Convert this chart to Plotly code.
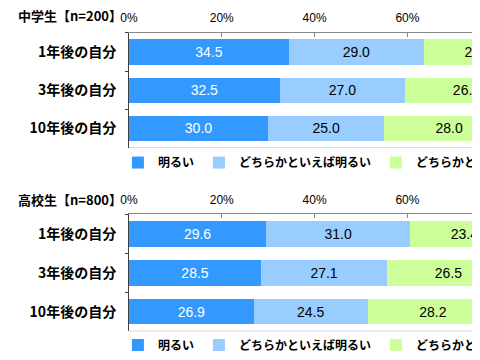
import plotly.graph_objects as go

categories = ["1年後の自分", "3年後の自分", "10年後の自分"]
series_names = ["明るい", "どちらかといえば明るい", "どちらかといえば暗い", "暗い"]
series_colors = ["#3399FF", "#99CCFF", "#CCFF99", "#FFCC99"]
text_colors = ["white", "black", "black", "black"]
tick_values = [0, 20, 40, 60, 80, 100]
tick_labels = ["0%", "20%", "40%", "60%", "80%", "100%"]

# 中学生 (n=200)
jhs_bright = [34.5, 32.5, 30.0]
jhs_rather_bright = [29.0, 27.0, 25.0]
jhs_rather_dark = [23.5, 26.5, 28.0]
jhs_dark = [13.0, 14.0, 17.0]

# 高校生 (n=800)
hs_bright = [29.6, 28.5, 26.9]
hs_rather_bright = [31.0, 27.1, 24.5]
hs_rather_dark = [23.4, 26.5, 28.2]
hs_dark = [16.0, 17.9, 20.4]

panels = [
    ("x", "y", "legend", [jhs_bright, jhs_rather_bright, jhs_rather_dark, jhs_dark]),
    ("x2", "y2", "legend2", [hs_bright, hs_rather_bright, hs_rather_dark, hs_dark]),
]

fig = go.Figure()
for xa, ya, lg, series in panels:
    for i, vals in enumerate(series):
        fig.add_trace(go.Bar(
            y=categories, x=vals, orientation="h",
            name=series_names[i],
            marker=dict(color=series_colors[i], line=dict(width=0)),
            text=vals, texttemplate="%{x:.1f}",
            textposition="inside", insidetextanchor="middle",
            textfont=dict(color=text_colors[i], size=14, family="Liberation Sans"),
            constraintext="none", cliponaxis=True,
            xaxis=xa, yaxis=ya, legend=lg,
            hoverinfo="skip",
        ))

# The page has an 8px body margin; the full chart is wider than the 480px view.
OFF = 8
W, H = 640, 352
def fx(page_x):
    return (page_x - OFF) / W
def fy(page_y):
    return 1 - (page_y - OFF) / H

x0_page = 124.5
x100_page = 124.5 + 483

def xaxis_cfg(anchor):
    return dict(
        domain=[fx(x0_page), fx(x100_page)], range=[0, 100], side="top", anchor=anchor,
        tickvals=tick_values, ticktext=tick_labels,
        showgrid=False, zeroline=False, showline=True, linecolor="#888888",
        ticks="inside", ticklen=4, tickcolor="#888888",
        tickfont=dict(size=12, family="Liberation Sans", color="black"),
        ticklabelstandoff=5,
    )

def yaxis_cfg(anchor, top_px, bottom_px):
    return dict(
        domain=[fy(bottom_px), fy(top_px)], anchor=anchor,
        categoryorder="array", categoryarray=categories, autorange="reversed",
        showgrid=False, zeroline=False, showline=True, linecolor="#404040",
        ticks="outside", tickson="boundaries", ticklen=3, tickcolor="#404040",
        tickfont=dict(size=14, weight="bold", color="black"),
        ticklabelstandoff=9,
    )

legend_cfg = dict(
    orientation="h", xanchor="left", yanchor="middle", traceorder="normal",
    font=dict(size=12, weight="bold", color="black"),
    bgcolor="rgba(0,0,0,0)", itemwidth=30, tracegroupgap=0,
)

fig.update_layout(
    width=W, height=H, margin=dict(l=0, r=0, t=0, b=0),
    barmode="stack", bargap=0.34,
    plot_bgcolor="white", paper_bgcolor="white",
    font=dict(family="Noto Sans CJK JP", size=12, color="black"),
    xaxis=xaxis_cfg("y"), yaxis=yaxis_cfg("x", 33, 148),
    xaxis2=xaxis_cfg("y2"), yaxis2=yaxis_cfg("x2", 215, 332),
    legend=dict(legend_cfg, x=fx(113), y=fy(163)),
    legend2=dict(legend_cfg, x=fx(113), y=fy(346)),
    annotations=[
        dict(text="中学生【n=200】", x=fx(8), y=fy(16), xref="paper", yref="paper",
             xanchor="left", yanchor="middle", showarrow=False, borderpad=0,
             font=dict(size=13, weight="bold", color="black")),
        dict(text="高校生【n=800】", x=fx(8), y=fy(200), xref="paper", yref="paper",
             xanchor="left", yanchor="middle", showarrow=False, borderpad=0,
             font=dict(size=13, weight="bold", color="black")),
    ],
    shapes=[
        dict(type="line", xref="x domain", yref="y domain", x0=0, x1=1, y0=0, y1=0,
             line=dict(color="#D8D8D8", width=1)),
        dict(type="line", xref="x2 domain", yref="y2 domain", x0=0, x1=1, y0=0, y1=0,
             line=dict(color="#D8D8D8", width=1)),
    ],
)

fig.write_html("out.html")
